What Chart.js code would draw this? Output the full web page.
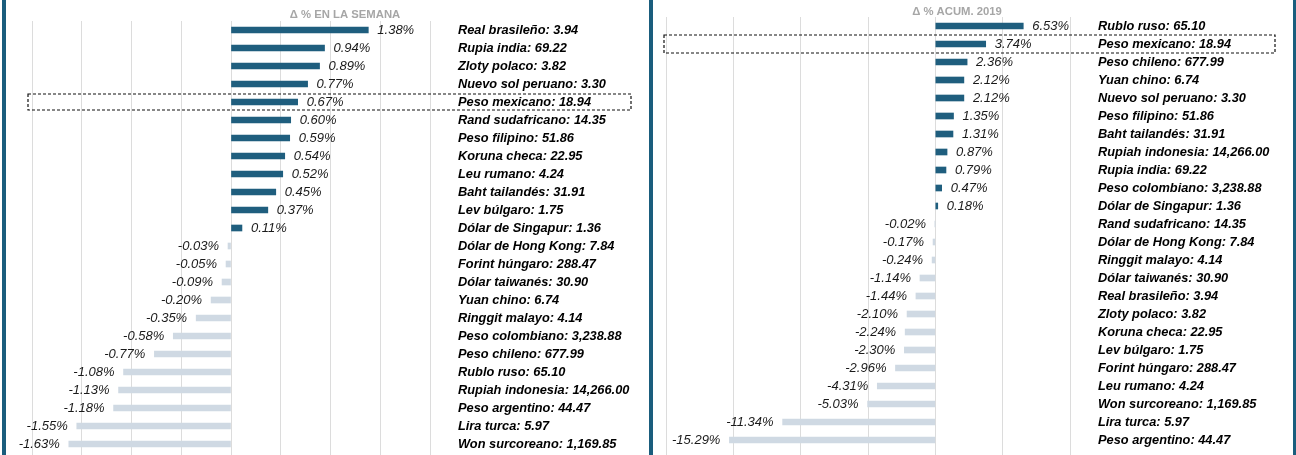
<!DOCTYPE html>
<html lang="es">
<head>
<meta charset="utf-8">
<script src="https://cdn.jsdelivr.net/npm/chart.js@4.4.1/dist/chart.umd.min.js"></script>
<style>
  html, body { margin: 0; padding: 0; background: #fff; }
  body { width: 1296px; height: 455px; position: relative; overflow: hidden; }
  .panel { position: absolute; top: 0; height: 455px; }
  #panel-semana { left: 7px; width: 641px; }
  #panel-acum { left: 653px; width: 640px; }
  .sep { position: absolute; top: 0; height: 455px; width: 4px; background: #1a5d7d; }
</style>
</head>
<body>
<div class="sep" style="left:2px"></div>
<div class="sep" style="left:649px"></div>
<div class="sep" style="left:1293px; width:3px"></div>
<div class="panel" id="panel-semana"><canvas id="chart-semana"></canvas></div>
<div class="panel" id="panel-acum"><canvas id="chart-acum"></canvas></div>

<script>
// Variacion semanal por divisa (tipo de cambio por dolar).
const weekCurrencies = [
  'Real brasileño', 'Rupia india', 'Zloty polaco', 'Nuevo sol peruano', 'Peso mexicano',
  'Rand sudafricano', 'Peso filipino', 'Koruna checa', 'Leu rumano', 'Baht tailandés',
  'Lev búlgaro', 'Dólar de Singapur', 'Dólar de Hong Kong', 'Forint húngaro', 'Dólar taiwanés',
  'Yuan chino', 'Ringgit malayo', 'Peso colombiano', 'Peso chileno', 'Rublo ruso',
  'Rupiah indonesia', 'Peso argentino', 'Lira turca', 'Won surcoreano'
];
const weekRates = [
  '3.94', '69.22', '3.82', '3.30', '18.94', '14.35', '51.86', '22.95', '4.24', '31.91',
  '1.75', '1.36', '7.84', '288.47', '30.90', '6.74', '4.14', '3,238.88', '677.99', '65.10',
  '14,266.00', '44.47', '5.97', '1,169.85'
];
const weekChanges = [
  1.38, 0.94, 0.89, 0.77, 0.67, 0.60, 0.59, 0.54, 0.52, 0.45,
  0.37, 0.11, -0.03, -0.05, -0.09, -0.20, -0.35, -0.58, -0.77, -1.08,
  -1.13, -1.18, -1.55, -1.63
];

// Variacion acumulada en 2019.
const ytdCurrencies = [
  'Rublo ruso', 'Peso mexicano', 'Peso chileno', 'Yuan chino', 'Nuevo sol peruano',
  'Peso filipino', 'Baht tailandés', 'Rupiah indonesia', 'Rupia india', 'Peso colombiano',
  'Dólar de Singapur', 'Rand sudafricano', 'Dólar de Hong Kong', 'Ringgit malayo', 'Dólar taiwanés',
  'Real brasileño', 'Zloty polaco', 'Koruna checa', 'Lev búlgaro', 'Forint húngaro',
  'Leu rumano', 'Won surcoreano', 'Lira turca', 'Peso argentino'
];
const ytdRates = [
  '65.10', '18.94', '677.99', '6.74', '3.30', '51.86', '31.91', '14,266.00', '69.22', '3,238.88',
  '1.36', '14.35', '7.84', '4.14', '30.90', '3.94', '3.82', '22.95', '1.75', '288.47',
  '4.24', '1,169.85', '5.97', '44.47'
];
const ytdChanges = [
  6.53, 3.74, 2.36, 2.12, 2.12, 1.35, 1.31, 0.87, 0.79, 0.47,
  0.18, -0.02, -0.17, -0.24, -1.14, -1.44, -2.10, -2.24, -2.30, -2.96,
  -4.31, -5.03, -11.34, -15.29
];

const highlightCurrency = 'Peso mexicano';

const FONT = '"Liberation Sans", Arial, sans-serif';
const POSITIVE_COLOR = '#1f5e7e';
const NEGATIVE_COLOR = '#cfd9e3';

function buildLabels(names, rates) {
  return names.map((name, i) => name + ': ' + rates[i]);
}

// Etiquetas de porcentaje al final de cada barra.
const valueLabelsPlugin = {
  id: 'valueLabels',
  afterDatasetsDraw(chart) {
    const ctx = chart.ctx;
    const meta = chart.getDatasetMeta(0);
    const values = chart.data.datasets[0].data;

    ctx.save();
    ctx.font = 'italic 13px ' + FONT;
    ctx.fillStyle = '#1a1a1a';
    ctx.textBaseline = 'middle';

    meta.data.forEach((bar, i) => {
      const v = values[i];
      const text = v.toFixed(2) + '%';
      if (v >= 0) {
        ctx.textAlign = 'left';
        ctx.fillText(text, bar.x + 9, bar.y);
      } else {
        ctx.textAlign = 'right';
        ctx.fillText(text, bar.x - 9, bar.y);
      }
    });

    ctx.restore();
  }
};

// Titulo pequeño en gris y recuadro punteado para el peso mexicano.
const panelDecorPlugin = {
  id: 'panelDecor',
  afterDraw(chart, args, opts) {
    const ctx = chart.ctx;
    const yScale = chart.scales.y;

    ctx.save();
    ctx.font = 'bold 11.3px ' + FONT;
    ctx.fillStyle = '#a6a6a6';
    ctx.textAlign = 'center';
    ctx.textBaseline = 'middle';
    ctx.fillText(opts.title, opts.titleX, opts.titleY);

    const idx = chart.data.labels.findIndex((l) => l.indexOf(highlightCurrency) === 0);
    if (idx >= 0) {
      const yc = yScale.getPixelForValue(idx);
      ctx.setLineDash([3, 2]);
      ctx.lineWidth = 1.2;
      ctx.strokeStyle = '#111';
      ctx.strokeRect(opts.boxLeft, yc - opts.boxHalf, opts.boxRight - opts.boxLeft, opts.boxHalf * 2);
    }
    ctx.restore();
  }
};

function createPanelChart(canvasId, labels, values, cfg) {
  const canvas = document.getElementById(canvasId);
  if (!canvas || typeof Chart === 'undefined') return;

  new Chart(canvas, {
    type: 'bar',
    data: {
      labels: labels,
      datasets: [{
        data: values,
        backgroundColor: values.map((v) => (v >= 0 ? POSITIVE_COLOR : NEGATIVE_COLOR)),
        borderWidth: 0,
        barThickness: 6
      }]
    },
    plugins: [valueLabelsPlugin, panelDecorPlugin],
    options: {
      indexAxis: 'y',
      responsive: true,
      maintainAspectRatio: false,
      animation: false,
      layout: { padding: { left: cfg.padLeft, top: cfg.padTop, right: 0, bottom: 0 } },
      plugins: {
        legend: { display: false },
        tooltip: { enabled: false },
        panelDecor: {
          title: cfg.title,
          titleX: cfg.titleX,
          titleY: cfg.titleY,
          boxLeft: cfg.boxLeft,
          boxRight: cfg.boxRight,
          boxHalf: cfg.boxHalf
        }
      },
      scales: {
        x: {
          min: cfg.min,
          max: cfg.max,
          ticks: { display: false, stepSize: cfg.step },
          grid: { color: '#dcdcdc', lineWidth: 1, drawTicks: true, tickLength: cfg.tickLength },
          border: { display: false },
          afterFit(scale) {
            scale.height = cfg.tickLength;
            scale.paddingLeft = 0;
            scale.paddingRight = 0;
          }
        },
        y: {
          position: 'right',
          grid: { display: false, drawTicks: false },
          border: { display: false },
          ticks: {
            autoSkip: false,
            padding: cfg.labelPad,
            color: '#000',
            font: { family: FONT, size: 12.8, style: 'italic', weight: 'bold' }
          },
          afterFit(scale) {
            // el padding de las etiquetas no debe mover el area del grafico
            scale.width = cfg.axisWidth;
            scale.paddingTop = 0;
            scale.paddingBottom = 0;
          }
        }
      }
    }
  });
}

createPanelChart('chart-semana', buildLabels(weekCurrencies, weekRates), weekChanges, {
  min: -2, max: 2, step: 0.5,
  padLeft: 25, padTop: 21, tickLength: 2,
  axisWidth: 218, labelPad: 28,
  title: 'Δ % EN LA SEMANA', titleX: 338, titleY: 15,
  boxLeft: 21, boxRight: 624, boxHalf: 8
});

createPanelChart('chart-acum', buildLabels(ytdCurrencies, ytdRates), ytdChanges, {
  min: -20, max: 10, step: 5,
  padLeft: 13, padTop: 17, tickLength: 6,
  axisWidth: 223, labelPad: 28,
  title: 'Δ % ACUM. 2019', titleX: 304, titleY: 12,
  boxLeft: 11, boxRight: 622, boxHalf: 9
});
</script>
</body>
</html>
